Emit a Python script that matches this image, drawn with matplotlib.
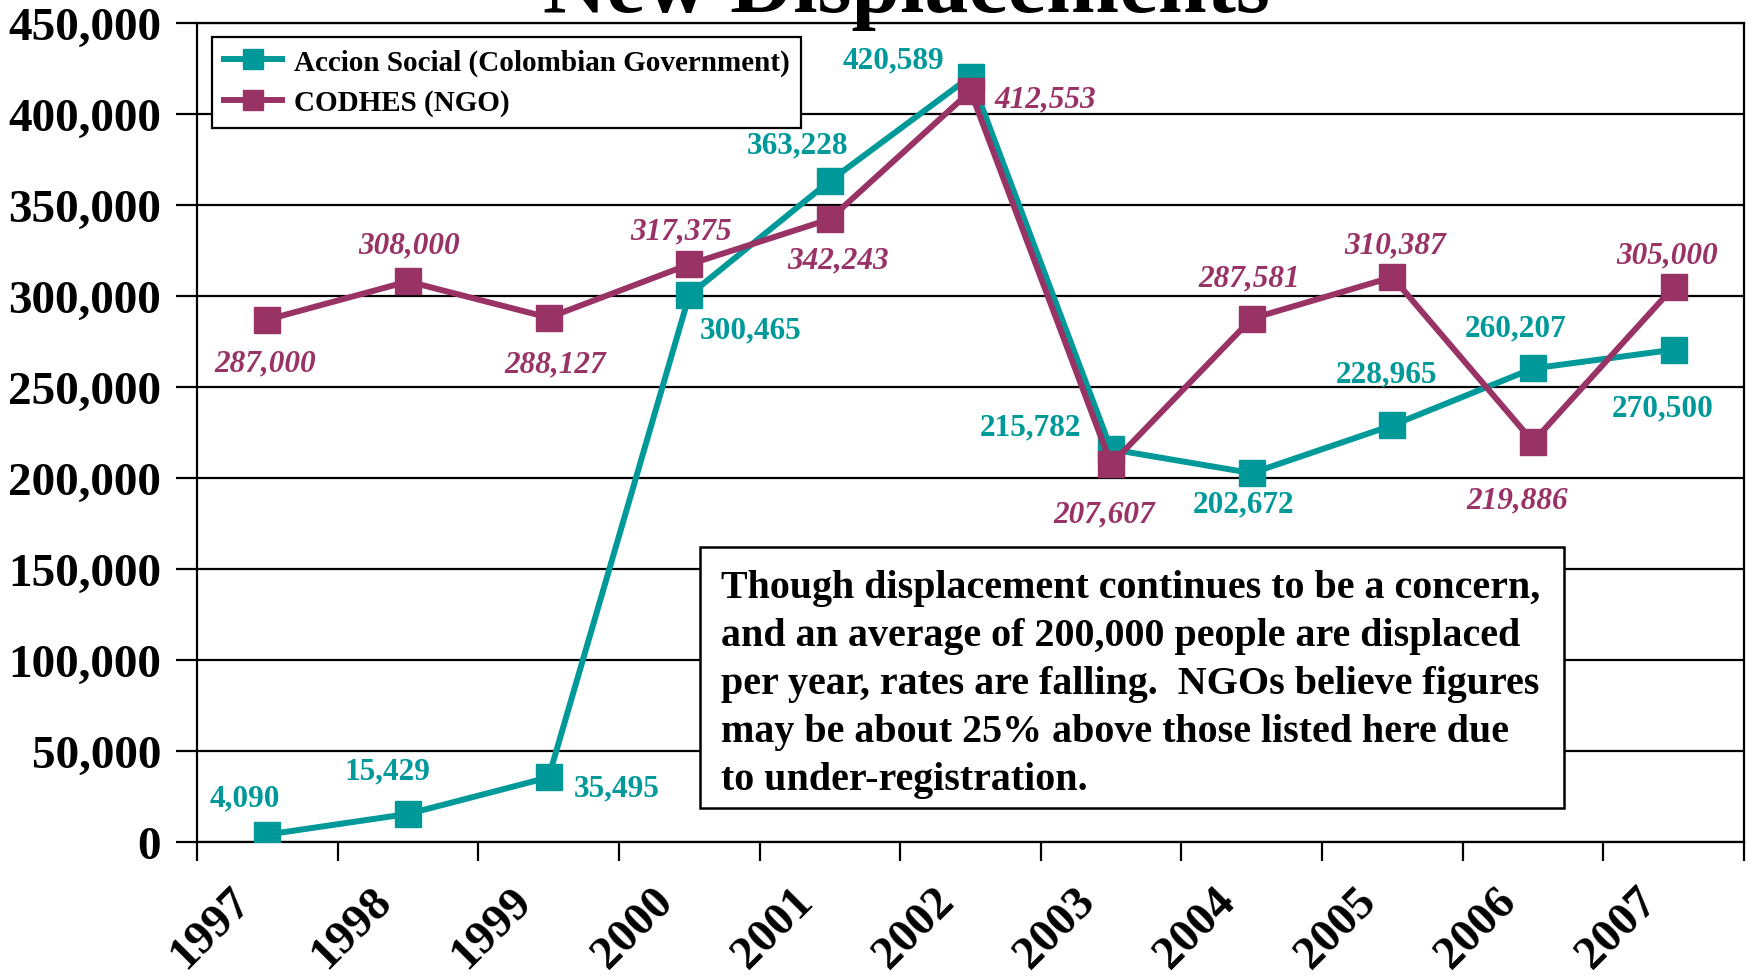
import matplotlib
matplotlib.use("Agg")
import matplotlib.pyplot as plt
from matplotlib.patches import Rectangle
from matplotlib.ticker import FuncFormatter, FixedLocator
from matplotlib.transforms import ScaledTranslation

years = ["1997", "1998", "1999", "2000", "2001", "2002", "2003", "2004", "2005", "2006", "2007"]
accion = [4090, 15429, 35495, 300465, 363228, 420589, 215782, 202672, 228965, 260207, 270500]
codhes = [287000, 308000, 288127, 317375, 342243, 412553, 207607, 287581, 310387, 219886, 305000]
series_names = ["Accion Social (Colombian Government)", "CODHES (NGO)"]
title = "New Displacements"
note_lines = [
    "Though displacement continues to be a concern,",
    "and an average of 200,000 people are displaced",
    "per year, rates are falling.  NGOs believe figures",
    "may be about 25% above those listed here due",
    "to under-registration.",
]

# label offsets (pixels) - styling only
accion_off = [(-22, 37), (-21, 43), (68, -11), (61, -35), (-32, 36), (-77, 17),
              (-81, 22), (-8, -31), (-6, 51), (-17, 41), (-11, -58)]
codhes_off = [(-2, -43), (1, 37), (7, -46), (-8, 33), (8, -41), (75, -8),
              (-7, -50), (-3, 41), (3, 32), (-16, -58), (-7, 32)]

TEAL = "#009999"
MAROON = "#993366"
FONT = "Liberation Serif"
plt.rcParams["font.family"] = [FONT, "DejaVu Serif"]
plt.rcParams["font.weight"] = "bold"

W, H = 1748, 979
fig = plt.figure(figsize=(W / 100, H / 100), dpi=100)
fig.patch.set_facecolor("white")

L, R, T, B = 197, 1744, 24, 843
ax = fig.add_axes([L / W, 1 - B / H, (R - L) / W, (B - T) / H])

x = list(range(len(years)))
ax.plot(x, accion, color=TEAL, lw=4.3, marker="s", ms=18.5, mec=TEAL, mfc=TEAL,
        label=series_names[0], zorder=3, solid_joinstyle="miter")
ax.plot(x, codhes, color=MAROON, lw=4.3, marker="s", ms=18.5, mec=MAROON, mfc=MAROON,
        label=series_names[1], zorder=4, solid_joinstyle="miter")

LBL = 22.5
for xi, v, off in zip(x, accion, accion_off):
    ax.annotate(f"{v:,}", (xi, v), xytext=off, textcoords="offset pixels",
                ha="center", va="center", color=TEAL, fontsize=LBL, fontweight="bold",
                zorder=6)
for xi, v, off in zip(x, codhes, codhes_off):
    ax.annotate(f"{v:,}", (xi, v), xytext=off, textcoords="offset pixels",
                ha="center", va="center", color=MAROON, fontsize=LBL, fontweight="bold",
                fontstyle="italic", zorder=6)

ax.set_xlim(-0.5, len(years) - 0.5)
ax.set_ylim(0, 450000)
ax.set_yticks(range(0, 450001, 50000))
ax.yaxis.set_major_formatter(FuncFormatter(lambda v, p: f"{int(v):,}"))
ax.yaxis.grid(True, color="black", lw=1.6)
ax.set_axisbelow(True)

ax.xaxis.set_major_locator(FixedLocator([i - 0.5 for i in range(len(years) + 1)]))
ax.xaxis.set_major_formatter(FuncFormatter(lambda v, p: ""))
ax.set_xticks(x, minor=True)
ax.set_xticklabels(years, minor=True, rotation=45, ha="right", va="top",
                   fontsize=34, fontweight="bold")
ax.tick_params(axis="x", which="minor", length=0, pad=27)
ax.tick_params(axis="x", which="major", length=14, width=1.6, direction="out")
shift = ScaledTranslation(-8 / 100, 0, fig.dpi_scale_trans)
for lab in ax.get_xticklabels(minor=True):
    lab.set_transform(lab.get_transform() + shift)
ax.tick_params(axis="y", length=15, width=1.6, direction="out", pad=11, labelsize=34)
for lab in ax.get_yticklabels():
    lab.set_fontweight("bold")
for s in ax.spines.values():
    s.set_linewidth(1.6)
    s.set_color("black")

leg = ax.legend(loc="upper left", bbox_to_anchor=(212 / W, 1 - 38 / H),
                bbox_transform=fig.transFigure, borderaxespad=0, fancybox=False,
                framealpha=1, edgecolor="black", markerscale=0.75,
                handlelength=2.0, borderpad=0.4, labelspacing=0.45, handletextpad=0.4,
                prop={"family": FONT, "weight": "bold", "size": 21})
leg.get_frame().set_linewidth(1.6)
leg.set_zorder(10)

# note box
bx0, bx1, by0, by1 = 700, 1564, 548, 809
fig.patches.append(Rectangle((bx0 / W, 1 - by1 / H), (bx1 - bx0) / W, (by1 - by0) / H,
                             transform=fig.transFigure, facecolor="white",
                             edgecolor="black", lw=1.8, zorder=8))
for i, line in enumerate(note_lines):
    fig.text(721 / W, 1 - (598 + 48 * i) / H, line, ha="left", va="baseline",
             fontsize=28.8, fontweight="bold", zorder=9)

fig.text(906 / W, 1 - 12 / H, title, ha="center", va="baseline",
         fontsize=63, fontweight="bold")

fig.savefig("out.png", dpi=100, facecolor="white")
